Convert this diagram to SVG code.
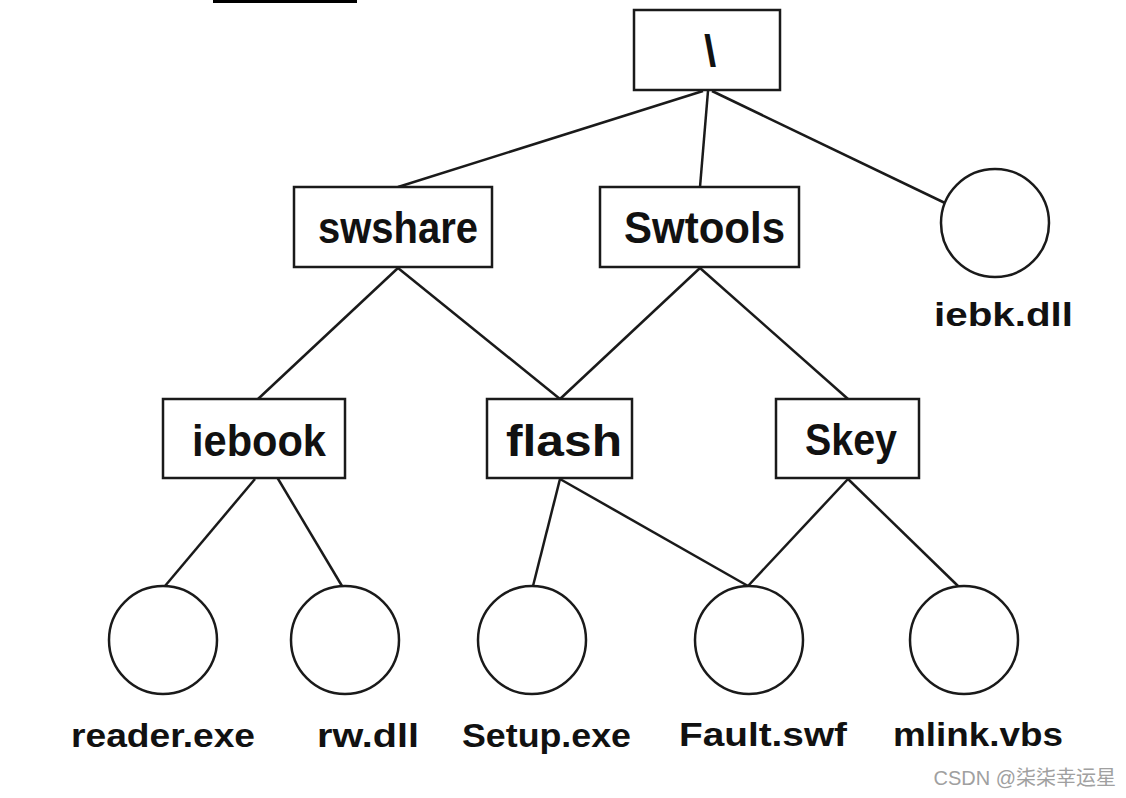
<svg xmlns="http://www.w3.org/2000/svg" width="1126" height="798" viewBox="0 0 1126 798">
<style>
.box{fill:#fff;stroke:#1a1a1a;stroke-width:2.5}
.leaf{fill:#fff;stroke:#1a1a1a;stroke-width:2.5}
.lbl{font-family:"Liberation Sans",Arial,sans-serif;font-weight:bold;font-size:44px;fill:#111}
.flbl{font-family:"Liberation Sans",Arial,sans-serif;font-weight:bold;font-size:33px;fill:#111}
.edge{stroke:#1a1a1a;stroke-width:2.5;fill:none}
.wm{font-family:"Liberation Sans","Noto Sans CJK SC",sans-serif;font-size:20px;fill:#a0a0a0}
</style>
<rect width="1126" height="798" fill="#fff"/>
<rect x="213" y="0" width="144" height="3" fill="#000"/>
<g id="connectors">
<line class="edge" x1="703" y1="91" x2="398" y2="187"/>
<line class="edge" x1="708" y1="91" x2="700" y2="187"/>
<line class="edge" x1="712" y1="91" x2="945" y2="203"/>
<line class="edge" x1="398" y1="268" x2="258" y2="399"/>
<line class="edge" x1="398" y1="268" x2="560" y2="399"/>
<line class="edge" x1="700" y1="268" x2="560" y2="399"/>
<line class="edge" x1="700" y1="268" x2="848" y2="399"/>
<line class="edge" x1="255" y1="479" x2="165" y2="586"/>
<line class="edge" x1="265" y1="457" x2="342" y2="586"/>
<line class="edge" x1="560" y1="479" x2="533" y2="586"/>
<line class="edge" x1="560" y1="479" x2="748" y2="586"/>
<line class="edge" x1="848" y1="479" x2="748" y2="586"/>
<line class="edge" x1="848" y1="479" x2="958" y2="586"/>
</g>
<g id="root">
<rect class="box" x="634" y="10" width="146" height="80"/>
<text class="lbl" x="704" y="66">\</text>
</g>
<g id="swshare">
<rect class="box" x="294" y="187" width="198" height="80"/>
<text class="lbl" x="318" y="243" textLength="160" lengthAdjust="spacingAndGlyphs">swshare</text>
</g>
<g id="swtools">
<rect class="box" x="600" y="187" width="199" height="80"/>
<text class="lbl" x="624" y="243" textLength="161" lengthAdjust="spacingAndGlyphs">Swtools</text>
</g>
<g id="iebk">
<circle class="leaf" cx="995" cy="223" r="54"/>
<text class="flbl" x="934" y="326" textLength="139" lengthAdjust="spacingAndGlyphs">iebk.dll</text>
</g>
<g id="iebook">
<rect class="box" x="163" y="399" width="182" height="79"/>
<text class="lbl" x="192" y="456" textLength="134" lengthAdjust="spacingAndGlyphs">iebook</text>
</g>
<g id="flash">
<rect class="box" x="487" y="399" width="145" height="79"/>
<text class="lbl" x="506" y="456" textLength="116" lengthAdjust="spacingAndGlyphs">flash</text>
</g>
<g id="skey">
<rect class="box" x="776" y="399" width="143" height="79"/>
<text class="lbl" x="805" y="455" textLength="92" lengthAdjust="spacingAndGlyphs">Skey</text>
</g>
<g id="reader">
<circle class="leaf" cx="163" cy="640" r="54"/>
<text class="flbl" x="71" y="747" textLength="184" lengthAdjust="spacingAndGlyphs">reader.exe</text>
</g>
<g id="rw">
<circle class="leaf" cx="345" cy="640" r="54"/>
<text class="flbl" x="317" y="747" textLength="102" lengthAdjust="spacingAndGlyphs">rw.dll</text>
</g>
<g id="setup">
<circle class="leaf" cx="532" cy="640" r="54"/>
<text class="flbl" x="462" y="747" textLength="169" lengthAdjust="spacingAndGlyphs">Setup.exe</text>
</g>
<g id="fault">
<circle class="leaf" cx="749" cy="640" r="54"/>
<text class="flbl" x="679" y="746" textLength="168" lengthAdjust="spacingAndGlyphs">Fault.swf</text>
</g>
<g id="mlink">
<circle class="leaf" cx="964" cy="640" r="54"/>
<text class="flbl" x="893" y="746" textLength="170" lengthAdjust="spacingAndGlyphs">mlink.vbs</text>
</g>
<text class="wm" x="1116" y="785" text-anchor="end">CSDN @柒柒幸运星</text>
</svg>
